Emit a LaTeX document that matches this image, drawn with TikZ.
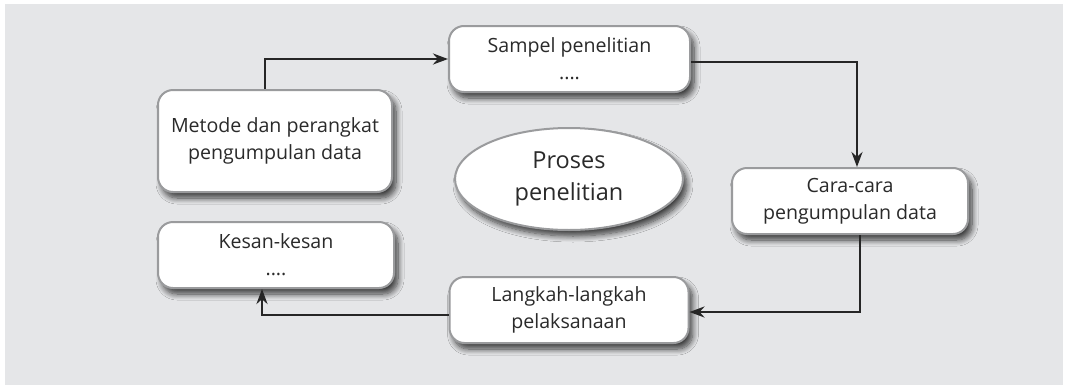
\documentclass[tikz,border=0pt]{standalone}
\usepackage{fontspec}
\setmainfont{Open Sans}
\usetikzlibrary{shadows.blur,arrows.meta,shapes.geometric}
\definecolor{bgc}{HTML}{E5E6E8}
\definecolor{edgec}{HTML}{9A9B9D}
\definecolor{txtc}{HTML}{2A2A2A}
\tikzset{
  shad/.style={blur shadow={shadow xshift=4pt, shadow yshift=-6pt, shadow blur steps=10, shadow opacity=75, shadow blur radius=6pt}},
  box/.style={draw=edgec, line width=2pt, fill=white, rounded corners=15pt, align=center, text=txtc,
    font=\fontsize{19.6}{27}\selectfont, inner sep=0pt, shad},
  ell/.style={draw=edgec, line width=2pt, fill=white, ellipse, align=center, text=txtc,
    font=\fontsize{23.5}{32}\selectfont, inner sep=0pt, shad},
  conn/.style={draw=black!85, line width=2.6pt, -{Stealth[length=15pt,width=11pt]}},
}
\begin{document}
\begin{tikzpicture}[x=1pt,y=-1pt]
\useasboundingbox (0,0) rectangle (1065,386);
\fill[bgc] (5,4) rectangle (1063,385);
\node[box, minimum width=234pt, minimum height=102pt] (metode) at (275,141) {Metode dan perangkat\\pengumpulan data};
\node[box, minimum width=241pt, minimum height=66pt] (sampel) at (569.5,59) {Sampel penelitian\\....};
\node[ell, minimum width=228pt, minimum height=102pt] (proses) at (569,179) {Proses\\penelitian};
\node[box, minimum width=236pt, minimum height=66pt] (cara) at (850,201) {Cara-cara\\pengumpulan data};
\node[box, minimum width=236pt, minimum height=66pt] (kesan) at (276,255) {Kesan-kesan\\....};
\node[box, minimum width=239pt, minimum height=66pt] (langkah) at (569,310) {Langkah-langkah\\pelaksanaan};
\draw[conn] (metode.north -| 265,0) |- (sampel.west |- 0,59);
\draw[conn] (sampel.east |- 0,62) -| (cara.north -| 857,0);
\draw[conn] (cara.south -| 860,0) |- (langkah.east |- 0,312);
\draw[conn] (langkah.west |- 0,315) -| (kesan.south -| 262,0);
\end{tikzpicture}
\end{document}
